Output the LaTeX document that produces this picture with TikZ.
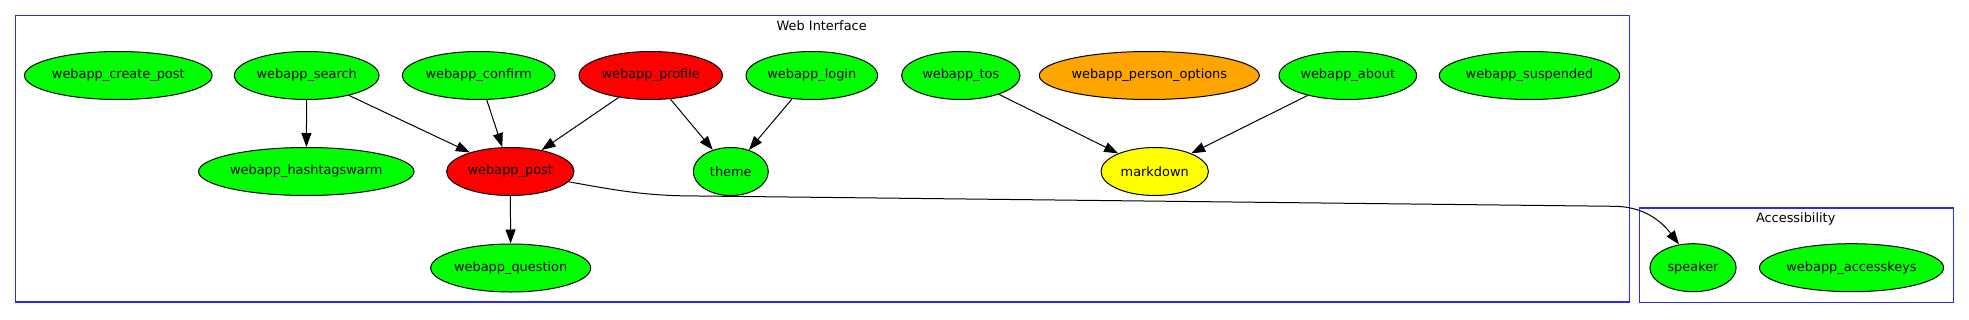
\documentclass[tikz,border=0pt]{standalone}
\usepackage{fontspec}
\setmainfont{DejaVu Sans}
\usetikzlibrary{shapes.geometric,arrows.meta}
\definecolor{gvgreen}{RGB}{0,255,0}
\definecolor{gvred}{RGB}{255,0,0}
\definecolor{gvorange}{RGB}{255,165,0}
\definecolor{gvyellow}{RGB}{255,255,0}
\definecolor{gvblue}{RGB}{40,40,255}
\begin{document}
\begin{tikzpicture}[x=1pt,y=-1pt,
  every node/.style={font=\fontsize{12.9}{15}\selectfont},
  nd/.style={ellipse,draw=black,line width=1pt,inner sep=0pt,minimum height=48pt},
  gr/.style={nd,fill=gvgreen},
  rd/.style={nd,fill=gvred},
  og/.style={nd,fill=gvorange},
  yl/.style={nd,fill=gvyellow},
  cluster/.style={draw=gvblue,line width=1.3pt},
  ctitle/.style={inner sep=0pt,text height=0.75em,text depth=0.2em},
  arr/.style={draw=black,line width=1pt,-{Triangle[length=14pt,width=10pt]}}
]
\useasboundingbox (0,0) rectangle (1969,319);
\draw[cluster] (15.7,15.7) rectangle (1629.3,302);
\draw[cluster] (1639.7,208) rectangle (1953.3,302.3);
\node[ctitle] (twi) at (821.7,27.5) {Web Interface};
\node[ctitle] (tacc) at (1795.7,219.5) {Accessibility};

\node[gr,minimum width=183.4pt] (createpost) at (118.3,75.5) {webapp\_create\_post};
\node[gr,minimum width=144.6pt] (search) at (306.7,75.5) {webapp\_search};
\node[gr,minimum width=152.6pt] (confirm) at (478.7,75.5) {webapp\_confirm};
\node[rd,minimum width=143.4pt] (profile) at (650.7,75.5) {webapp\_profile};
\node[gr,minimum width=131.6pt] (login) at (811.8,75.5) {webapp\_login};
\node[gr,minimum width=118.4pt] (tos) at (960.8,75.5) {webapp\_tos};
\node[og,minimum width=210pt] (personopt) at (1149.3,75.5) {webapp\_person\_options};
\node[gr,minimum width=137.6pt] (about) at (1347.8,75.5) {webapp\_about};
\node[gr,minimum width=177.6pt] (suspended) at (1529.5,75.5) {webapp\_suspended};

\node[gr,minimum width=207.4pt] (hashtag) at (306.3,171.5) {webapp\_hashtagswarm};
\node[rd,minimum width=127.4pt] (post) at (510.3,171.5) {webapp\_post};
\node[gr,minimum width=75pt] (theme) at (730.8,171.5) {theme};
\node[yl,minimum width=107.4pt] (markdown) at (1154.7,171.5) {markdown};

\node[gr,minimum width=160pt] (question) at (510.7,268) {webapp\_question};
\node[gr,minimum width=86.3pt] (speaker) at (1693,267.7) {speaker};
\node[gr,minimum width=181.6pt] (accesskeys) at (1851.5,267.7) {webapp\_accesskeys};

\draw[arr] (search) -- (hashtag);
\draw[arr] (search) -- (post);
\draw[arr] (confirm) -- (post);
\draw[arr] (profile) -- (post);
\draw[arr] (profile) -- (theme);
\draw[arr] (login) -- (theme);
\draw[arr] (tos) -- (markdown);
\draw[arr] (about) -- (markdown);
\draw[arr] (post) -- (question);
\draw[arr] (post.-10.6) .. controls (625,192) and (650,196) .. (700,196)
  -- (1615,206.3) .. controls (1645,206.8) and (1662,222) .. (speaker.121.7);
\end{tikzpicture}
\end{document}
